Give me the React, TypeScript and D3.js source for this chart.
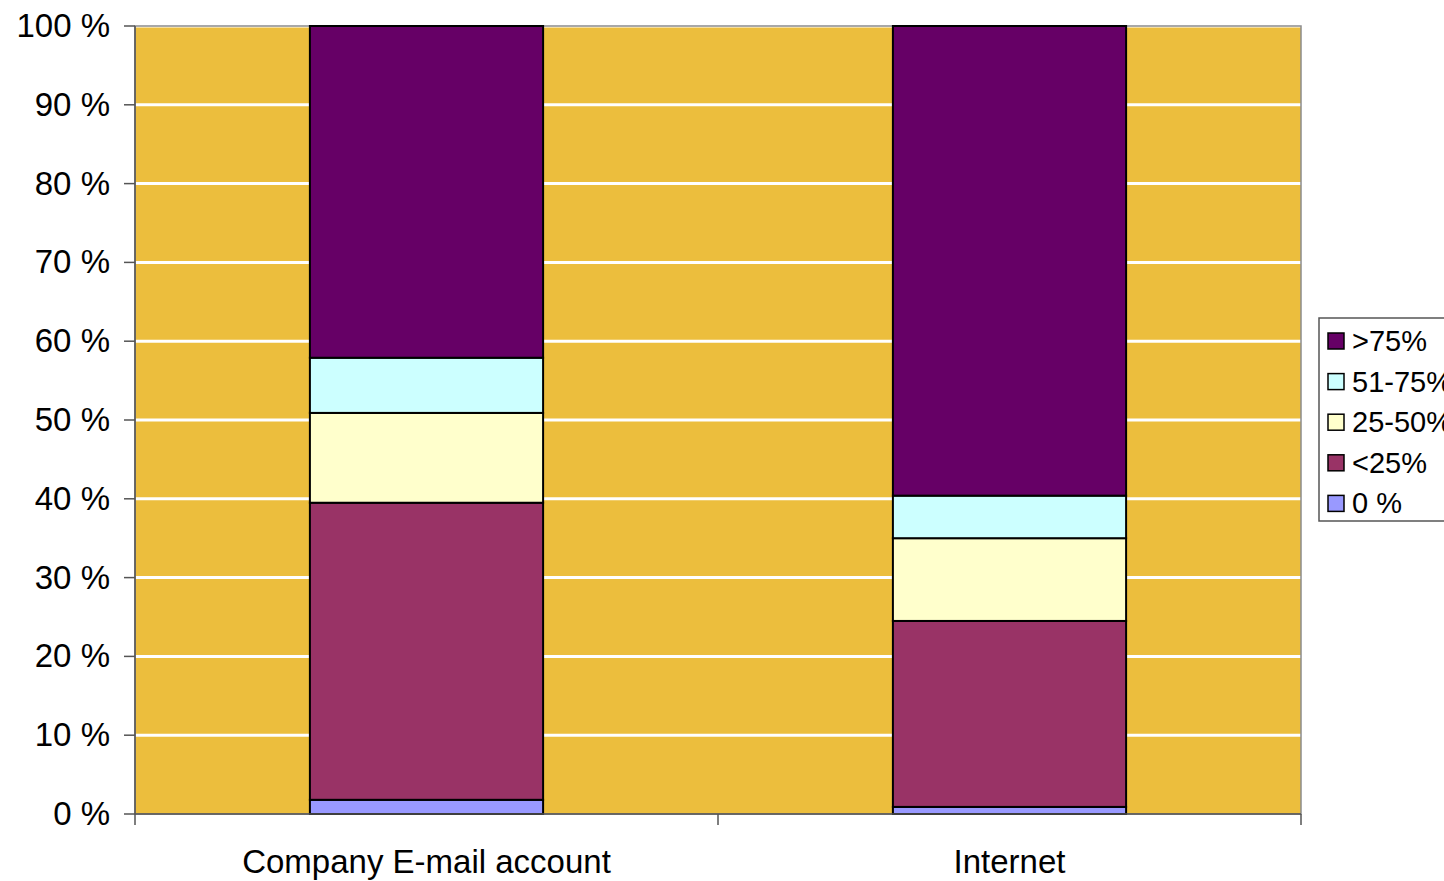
import React from "react";
import * as d3 from "d3";

const categories = ["Company E-mail account", "Internet"];
const seriesNames = ["0 %", "<25%", "25-50%", "51-75%", ">75%"];
const seriesColors = ["#9999FF", "#993366", "#FFFFCC", "#CCFFFF", "#660066"];
const values0 = [1.8, 0.9];
const valuesLt25 = [37.7, 23.6];
const values25to50 = [11.4, 10.5];
const values51to75 = [7.0, 5.4];
const valuesGt75 = [42.1, 59.6];
const yTicks = [0, 10, 20, 30, 40, 50, 60, 70, 80, 90, 100];
const legendOrder = [">75%", "51-75%", "25-50%", "<25%", "0 %"];

const W = 1444;
const H = 881;
const plot = { left: 135, right: 1301, top: 26, bottom: 814 };
const font = "'Liberation Sans', Arial, sans-serif";

export default function App() {
  const seriesValues = [values0, valuesLt25, values25to50, values51to75, valuesGt75];
  const rows = categories.map((c, i) => {
    const r: any = { cat: c };
    seriesNames.forEach((s, j) => (r[s] = seriesValues[j][i]));
    return r;
  });
  const stack = d3.stack().keys(seriesNames)(rows as any);
  const x = d3.scaleBand().domain(categories).range([plot.left, plot.right]).paddingInner(0.6).paddingOuter(0.3);
  const xOuter = d3.scaleBand().domain(categories).range([plot.left, plot.right]);
  const y = d3.scaleLinear().domain([0, 100]).range([plot.bottom, plot.top]);

  return (
    <svg width={W} height={H} style={{ position: "absolute", left: 0, top: 0 }}>
      <rect x={plot.left} y={plot.top} width={plot.right - plot.left} height={plot.bottom - plot.top} fill="#ECBE3D" />
      {yTicks.slice(1).map((t) => (
        <line key={t} x1={plot.left} x2={plot.right} y1={y(t)} y2={y(t)} stroke="#FFFFFF" strokeWidth={3} />
      ))}
      <rect x={plot.left} y={plot.top} width={plot.right - plot.left} height={plot.bottom - plot.top} fill="none" stroke="#8c8c8c" strokeWidth={1.5} />
      {stack.map((layer, j) =>
        layer.map((d, i) => (
          <rect
            key={`${j}-${i}`}
            x={x(categories[i])!}
            width={x.bandwidth()}
            y={y(d[1])}
            height={y(d[0]) - y(d[1])}
            fill={seriesColors[j]}
            stroke="#000"
            strokeWidth={2}
          />
        ))
      )}
      {/* y axis */}
      <line x1={plot.left} x2={plot.left} y1={plot.top} y2={plot.bottom} stroke="#555" strokeWidth={1.5} />
      {yTicks.map((t) => (
        <g key={t}>
          <line x1={plot.left - 11} x2={plot.left} y1={y(t)} y2={y(t)} stroke="#555" strokeWidth={1.5} />
          <text x={110} y={y(t) + 11} textAnchor="end" fontFamily={font} fontSize={33} fill="#000">
            {t} %
          </text>
        </g>
      ))}
      {/* x axis */}
      <line x1={plot.left} x2={plot.right} y1={plot.bottom} y2={plot.bottom} stroke="#555" strokeWidth={1.5} />
      {[...categories.map((c) => xOuter(c)!), plot.right].map((v, i) => (
        <line key={i} x1={v} x2={v} y1={plot.bottom} y2={plot.bottom + 11} stroke="#555" strokeWidth={1.5} />
      ))}
      {categories.map((c) => (
        <text key={c} x={xOuter(c)! + xOuter.bandwidth() / 2} y={873} textAnchor="middle" fontFamily={font} fontSize={33} fill="#000">
          {c}
        </text>
      ))}
      {/* legend */}
      <rect x={1319} y={318} width={140} height={203} fill="#fff" stroke="#555" strokeWidth={1.5} />
      {legendOrder.map((name, k) => {
        const j = seriesNames.indexOf(name);
        const cy = 341 + k * 40.6;
        return (
          <g key={name}>
            <rect x={1328} y={cy - 8} width={16} height={16} fill={seriesColors[j]} stroke="#000" strokeWidth={1.5} />
            <text x={1352} y={cy + 10} fontFamily={font} fontSize={29} fill="#000">
              {name}
            </text>
          </g>
        );
      })}
    </svg>
  );
}
